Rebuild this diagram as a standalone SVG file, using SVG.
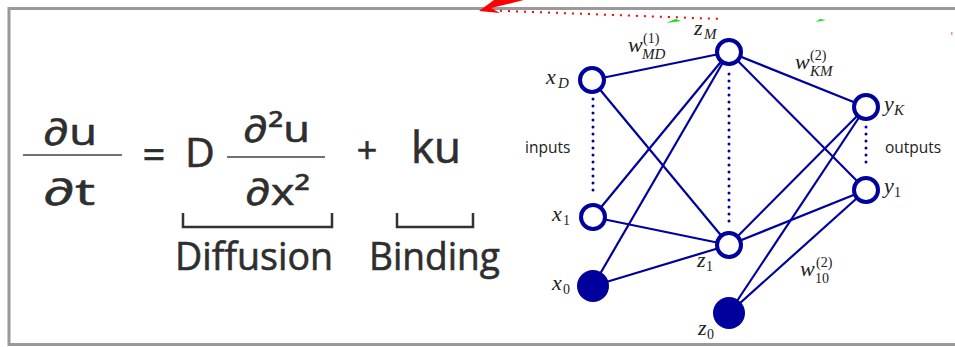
<svg xmlns="http://www.w3.org/2000/svg" width="955" height="347" viewBox="0 0 955 347">
<style>
.eq{font-family:"Open Sans","DejaVu Sans",sans-serif;fill:#2e2e2e;stroke:#2e2e2e;stroke-width:0.6}
.m{font-family:"Liberation Serif","DejaVu Serif",serif;font-style:italic;fill:#222;font-size:22px}
.s{font-family:"Liberation Serif","DejaVu Serif",serif;font-style:italic;fill:#222;font-size:15px}
.u{font-family:"Liberation Serif","DejaVu Serif",serif;fill:#222;font-size:14px}
.lbl{font-family:"Open Sans","DejaVu Sans",sans-serif;fill:#222;font-size:15.5px}
.e{stroke:#00009c;stroke-width:2.2;fill:none}
.d{stroke:#00009c;stroke-width:3;stroke-linecap:round;stroke-dasharray:0 7;fill:none}
.open{fill:#fff;stroke:#00009c;stroke-width:4}
.full{fill:#00009c}
</style>
<rect x="9" y="8.5" width="960" height="336" fill="none" stroke="#999" stroke-width="3"/>
<g id="annotations">
<line x1="492" y1="10.5" x2="722" y2="19" stroke="#f00" stroke-width="2" stroke-dasharray="2 6"/>
<polygon points="479,11 494,0 524,0 491,8 500,13" fill="#f00"/>
<polygon points="666,23 676,19 681,21" fill="#1d1"/>
<polygon points="816,22 820,19 826,20" fill="#1d1"/>
<rect x="951" y="32" width="1.5" height="3" fill="#f88"/>
</g>
<g id="equation">
<text class="eq" x="43" y="145" font-size="37" textLength="54" lengthAdjust="spacingAndGlyphs">∂u</text>
<line x1="23" y1="155" x2="122" y2="155" stroke="#444" stroke-width="1.5"/>
<text class="eq" x="43" y="205" font-size="37" textLength="52" lengthAdjust="spacingAndGlyphs">∂t</text>
<text class="eq" x="154" y="169" font-size="40" text-anchor="middle">=</text>
<text class="eq" x="185" y="167" font-size="41">D</text>
<text class="eq" x="243" y="142" font-size="37" textLength="67" lengthAdjust="spacingAndGlyphs">∂²u</text>
<line x1="227" y1="157" x2="325" y2="157" stroke="#444" stroke-width="1.5"/>
<text class="eq" x="245" y="205" font-size="37" textLength="65" lengthAdjust="spacingAndGlyphs">∂x²</text>
<text class="eq" x="367" y="163" font-size="36" text-anchor="middle">+</text>
<text class="eq" x="411" y="163" font-size="43" textLength="50" lengthAdjust="spacingAndGlyphs">ku</text>
<path d="M183,213V227H332V213M397,213V227H473V213" fill="none" stroke="#333" stroke-width="2.5"/>
<text class="eq" x="175" y="270" font-size="38" textLength="158" lengthAdjust="spacingAndGlyphs">Diffusion</text>
<text class="eq" x="369" y="270" font-size="38" textLength="131" lengthAdjust="spacingAndGlyphs">Binding</text>
</g>
<g id="connectors">
<line class="e" x1="592" y1="80" x2="729" y2="52"/>
<line class="e" x1="592" y1="80" x2="729" y2="245"/>
<line class="e" x1="593" y1="217" x2="729" y2="52"/>
<line class="e" x1="593" y1="217" x2="729" y2="245"/>
<line class="e" x1="593" y1="286" x2="729" y2="52"/>
<line class="e" x1="593" y1="286" x2="729" y2="245"/>
<line class="e" x1="729" y1="52" x2="866" y2="107"/>
<line class="e" x1="729" y1="52" x2="866" y2="190"/>
<line class="e" x1="729" y1="245" x2="866" y2="107"/>
<line class="e" x1="729" y1="245" x2="866" y2="190"/>
<line class="e" x1="729" y1="313" x2="866" y2="107"/>
<line class="e" x1="729" y1="313" x2="866" y2="190"/>
<line class="d" x1="593" y1="99" x2="593" y2="195"/>
<line class="d" x1="729" y1="74" x2="729" y2="222"/>
<line class="d" x1="866" y1="127" x2="866" y2="168"/>
</g>
<g id="xD"><circle class="open" cx="592" cy="80" r="12"/><text class="m" x="546" y="84">x</text><text class="s" x="558" y="88">D</text></g>
<g id="x1"><circle class="open" cx="593" cy="217" r="12"/><text class="m" x="552" y="221">x</text><text class="u" x="563" y="225">1</text></g>
<g id="x0"><circle class="full" cx="593" cy="286" r="16"/><text class="m" x="552" y="290">x</text><text class="u" x="563" y="294">0</text></g>
<g id="zM"><circle class="open" cx="729" cy="52" r="12"/><text class="m" x="694" y="35">z</text><text class="s" x="704" y="39">M</text></g>
<g id="z1"><circle class="open" cx="729" cy="245" r="12"/><text class="m" x="697" y="267">z</text><text class="u" x="706" y="271">1</text></g>
<g id="z0"><circle class="full" cx="729" cy="313" r="16"/><text class="m" x="698" y="335">z</text><text class="u" x="707" y="339">0</text></g>
<g id="yK"><circle class="open" cx="866" cy="107" r="12"/><text class="m" x="884" y="111">y</text><text class="s" x="894" y="115">K</text></g>
<g id="y1"><circle class="open" cx="866" cy="190" r="12"/><text class="m" x="884" y="193">y</text><text class="u" x="894" y="197">1</text></g>
<g id="weights">
<text class="m" x="628" y="52">w</text><text class="u" x="643" y="43">(1)</text><text class="s" x="642" y="59">MD</text>
<text class="m" x="795" y="69">w</text><text class="u" x="810" y="60">(2)</text><text class="s" x="810" y="76">KM</text>
<text class="m" x="800" y="276">w</text><text class="u" x="816" y="267">(2)</text><text class="u" x="815" y="283">10</text>
<text class="lbl" x="525" y="153">inputs</text>
<text class="lbl" x="885" y="153">outputs</text>
</g>
</svg>
